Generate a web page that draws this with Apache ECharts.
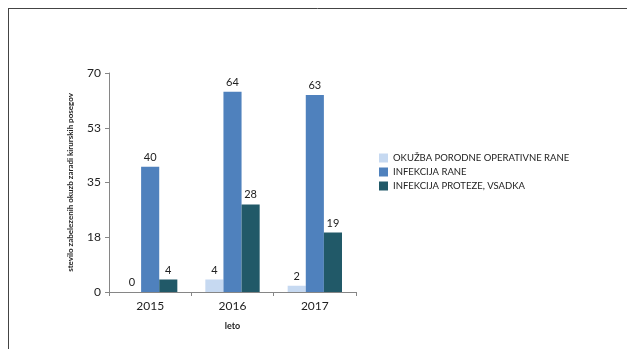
<!DOCTYPE html>
<html>
<head>
<meta charset="utf-8">
<script src="https://cdn.jsdelivr.net/npm/echarts@6/dist/echarts.min.js"></script>
<style>
  html, body { margin: 0; padding: 0; background: #fff; }
  #chart { width: 627px; height: 349px; }
</style>
</head>
<body>
<div id="chart"></div>
<script>
var years = ['2015', '2016', '2017'];
var seriesNames = ['OKUŽBA PORODNE OPERATIVNE RANE', 'INFEKCIJA RANE', 'INFEKCIJA PROTEZE, VSADKA'];
var okuzbaRane = [0, 4, 2];
var infekcijaRane = [40, 64, 63];
var infekcijaProteze = [4, 28, 19];
var colors = ['#C6D9F1', '#4F81BD', '#215968'];

var chartDom = document.getElementById('chart');
var myChart = echarts.init(chartDom);

var font = 'Lato, "Open Sans", sans-serif';

function makeSeries(name, data, color) {
  return {
    name: name,
    type: 'bar',
    data: data,
    barGap: 0,
    barCategoryGap: '34%',
    itemStyle: { color: color },
    label: {
      show: true,
      position: 'top',
      color: '#222',
      fontSize: 11,
      fontFamily: font,
      distance: 4
    }
  };
}

var option = {
  animation: false,
  textStyle: { fontFamily: font },
  graphic: [
    { type: 'line', shape: { x1: 8, y1: 8.5, x2: 627, y2: 8.5 }, style: { stroke: '#444', lineWidth: 1 } },
    { type: 'line', shape: { x1: 8.5, y1: 8, x2: 8.5, y2: 349 }, style: { stroke: '#444', lineWidth: 1 } }
  ],
  legend: {
    orient: 'vertical',
    left: 374,
    top: 148,
    itemWidth: 9,
    itemHeight: 9,
    itemGap: 4,
    icon: 'rect',
    textStyle: { fontSize: 9.5, color: '#222', fontFamily: font },
    data: seriesNames
  },
  grid: {
    left: 109,
    right: 271,
    top: 73,
    bottom: 57
  },
  xAxis: {
    type: 'category',
    data: years,
    name: 'leto',
    nameLocation: 'middle',
    nameGap: 30,
    nameTextStyle: { fontSize: 9, fontWeight: 'bold', color: '#222', fontFamily: font },
    axisLine: { lineStyle: { color: '#868686' } },
    axisTick: { show: true, length: 4, lineStyle: { color: '#868686' } },
    axisLabel: { fontSize: 12, color: '#222', margin: 8, fontFamily: font }
  },
  yAxis: {
    type: 'value',
    min: 0,
    max: 70,
    interval: 17.5,
    name: 'stevilo zabelezenih okuzb zaradi kirurskih posegov',
    nameLocation: 'middle',
    nameRotate: 90,
    nameGap: 35,
    nameTextStyle: { fontSize: 8, fontWeight: 'bold', color: '#222', fontFamily: font },
    axisLine: { show: true, lineStyle: { color: '#868686' } },
    axisTick: { show: true, length: 4, lineStyle: { color: '#868686' } },
    splitLine: { show: false },
    axisLabel: {
      fontSize: 12,
      color: '#222',
      margin: 8,
      fontFamily: font,
      formatter: function (v) { return Math.round(v); }
    }
  },
  series: [
    makeSeries(seriesNames[0], okuzbaRane, colors[0]),
    makeSeries(seriesNames[1], infekcijaRane, colors[1]),
    makeSeries(seriesNames[2], infekcijaProteze, colors[2])
  ]
};

myChart.setOption(option);
window.addEventListener('resize', function () { myChart.resize(); });
</script>
</body>
</html>
